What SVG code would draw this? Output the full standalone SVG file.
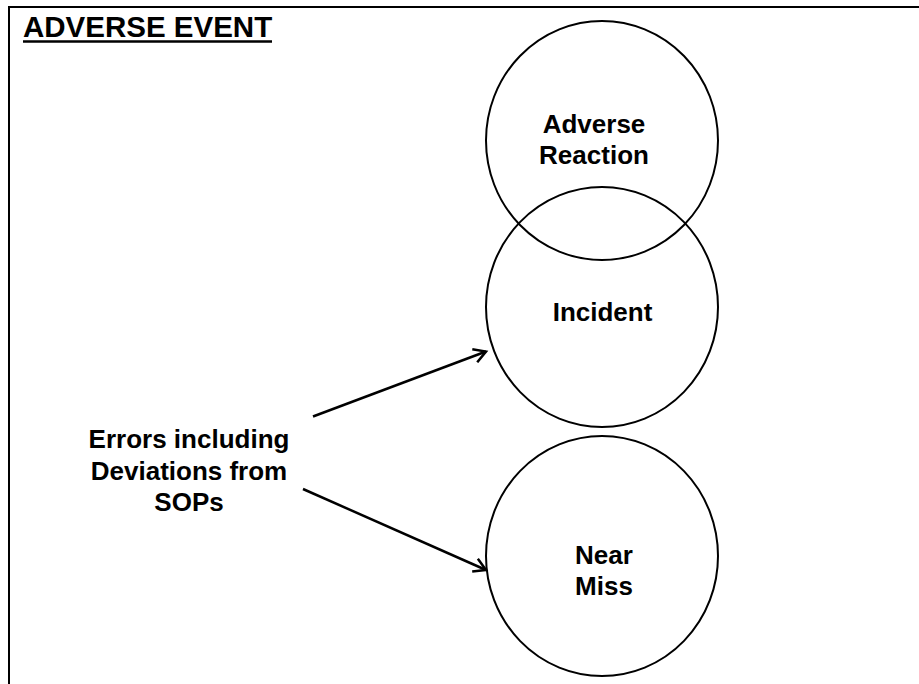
<svg xmlns="http://www.w3.org/2000/svg" width="919" height="684" viewBox="0 0 919 684">
<defs>
<style>
.lbl{font-family:"Liberation Sans",Arial,sans-serif;font-weight:bold;font-size:26px;fill:#000;text-anchor:middle}
.node{fill:none;stroke:#000;stroke-width:2}
.conn{fill:none;stroke:#000;stroke-width:2.5}
</style>
<marker id="arr" markerWidth="16" markerHeight="16" refX="13" refY="8" orient="auto" markerUnits="userSpaceOnUse">
<path d="M1,1 L13,8 L1,15" fill="none" stroke="#000" stroke-width="2.5"/>
</marker>
</defs>
<rect width="919" height="684" fill="#fff"/>
<g id="frame">
<path d="M9,684 L9,7 L919,7" fill="none" stroke="#000" stroke-width="2"/>
<text x="23" y="37" style="font-family:'Liberation Sans',Arial,sans-serif;font-weight:bold;font-size:29.5px">ADVERSE EVENT</text>
<line x1="23" y1="41.5" x2="272" y2="41.5" stroke="#000" stroke-width="2.5"/>
</g>
<g id="adverse-reaction">
<ellipse class="node" cx="602" cy="140.5" rx="116" ry="119.5"/>
<text class="lbl" x="594" y="133">Adverse</text>
<text class="lbl" x="594" y="164">Reaction</text>
</g>
<g id="incident">
<ellipse class="node" cx="602" cy="307" rx="116" ry="120"/>
<text class="lbl" x="602.5" y="321">Incident</text>
</g>
<g id="near-miss">
<ellipse class="node" cx="602" cy="556" rx="116" ry="120"/>
<text class="lbl" x="604" y="564">Near</text>
<text class="lbl" x="604" y="595">Miss</text>
</g>
<g id="errors">
<text class="lbl" x="189" y="448">Errors including</text>
<text class="lbl" x="189" y="480">Deviations from</text>
<text class="lbl" x="189" y="511">SOPs</text>
</g>
<g id="connectors">
<line class="conn" x1="313" y1="416.5" x2="486" y2="351.5" marker-end="url(#arr)"/>
<line class="conn" x1="303" y1="489" x2="486" y2="570" marker-end="url(#arr)"/>
</g>
</svg>
